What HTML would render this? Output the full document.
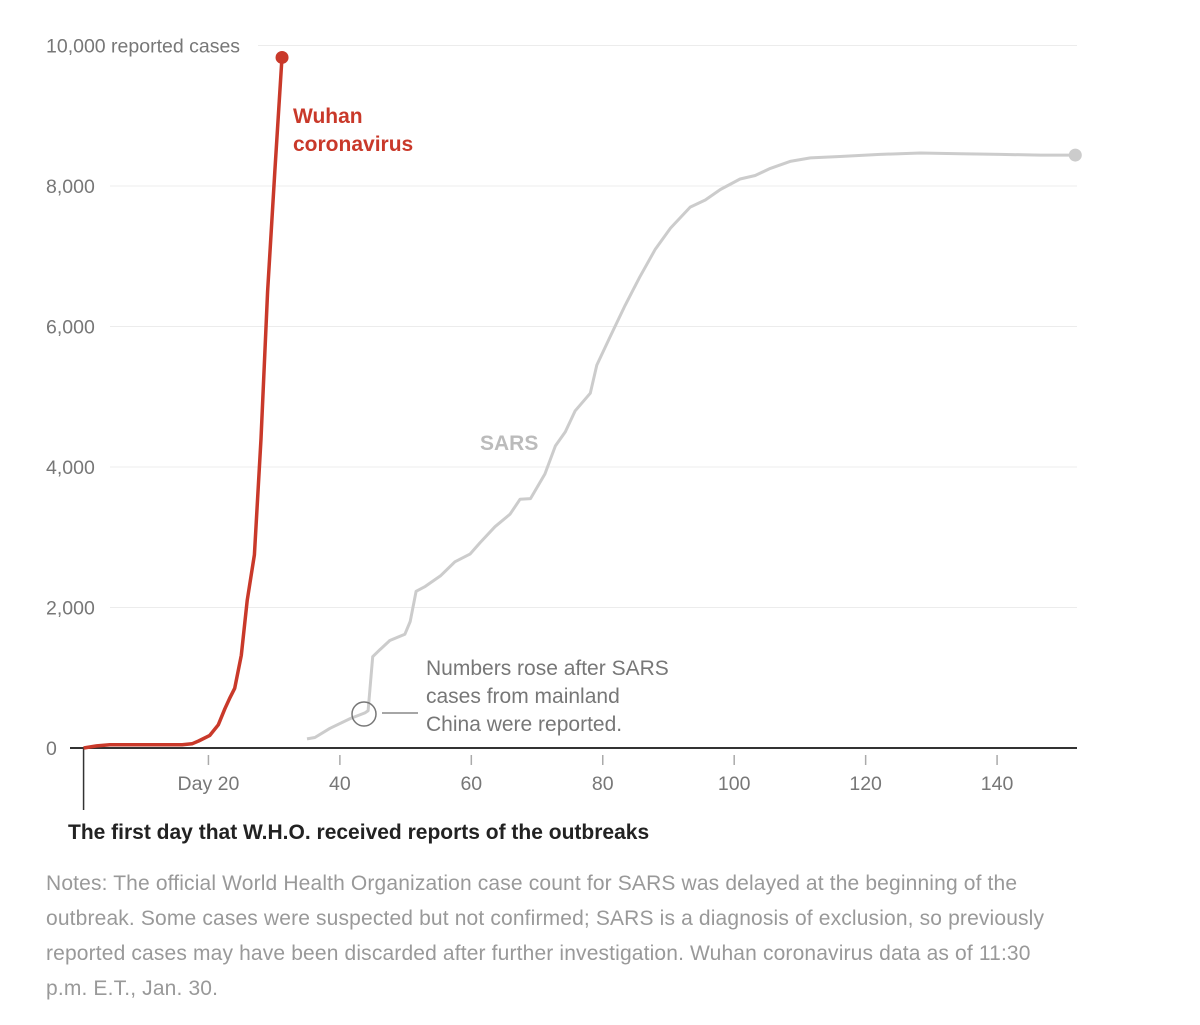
<!DOCTYPE html>
<html><head><meta charset="utf-8"><style>
body{margin:0;background:#fff;width:1200px;height:1025px;overflow:hidden;font-family:"Liberation Sans",sans-serif}
svg{position:absolute;left:0;top:0}
.notes{position:absolute;left:46px;top:866px;width:1005px;font-size:21px;line-height:35px;color:#999;font-family:"Liberation Sans",sans-serif;letter-spacing:0.15px}
</style></head><body>
<svg id="chart" width="1200" height="860"></svg>
<div class="notes">Notes: The official World Health Organization case count for SARS was delayed at the beginning of the outbreak. Some cases were suspected but not confirmed; SARS is a diagnosis of exclusion, so previously reported cases may have been discarded after further investigation. Wuhan coronavirus data as of 11:30 p.m. E.T., Jan. 30.</div>
<script>
const yTicks=[0,2000,4000,6000,8000,10000];
const yTickLabels=["0","2,000","4,000","6,000","8,000","10,000 reported cases"];
const xTicks=[20,40,60,80,100,120,140];
const xTickLabels=["Day 20","40","60","80","100","120","140"];
const wuhanDays=[1,3,5,8,12,16,17.5,18.5,20.2,21.5,22.5,23.3,24,25,25.9,27,28,29,30.1,31.2];
const wuhanCases=[0,30,45,45,45,45,60,100,180,330,560,720,850,1320,2100,2750,4400,6500,8200,9830];
const sarsDays=[35,36.2,38.5,41.6,43.8,44.3,45,46.1,47.6,49.9,50.7,51.6,53,55.3,57.5,59.8,61.3,63.6,65.9,67.4,69,71.2,72.8,74.3,75.8,78.1,79.1,81.1,83.4,85.6,88,90.3,93.3,95.6,97.9,100.9,103.2,105.5,108.5,111.6,116.1,122.2,128.3,134.4,140.5,146.6,151.9];
const sarsCases=[130,150,280,420,500,530,1300,1400,1530,1620,1800,2230,2300,2450,2650,2760,2920,3150,3330,3540,3550,3900,4300,4500,4800,5050,5450,5850,6300,6700,7100,7400,7700,7800,7950,8100,8150,8250,8350,8400,8420,8450,8470,8460,8450,8440,8440];
const NS="http://www.w3.org/2000/svg";
const svg=document.getElementById('chart');
const X=d=>77+d*6.572;
const Y=v=>748-v*0.07025;
function mk(t,a,p){const e=document.createElementNS(NS,t);for(const k in a)e.setAttribute(k,a[k]);(p||svg).appendChild(e);return e;}
yTicks.forEach((v,i)=>{
 if(v>0){const g=mk('line',{x1:v===10000?258:110,x2:1077,y1:Y(v),y2:Y(v),stroke:'#ececec','stroke-width':1});
 
 }
 const t=mk('text',{x:46,y:Y(v)+7,'font-size':19.5,fill:'#777'});t.textContent=yTickLabels[i];
 
 
});
xTicks.forEach((d,i)=>{
 const l=mk('line',{x1:X(d),x2:X(d),y1:755,y2:765,stroke:'#aaa','stroke-width':1.5});
 
 
 const t=mk('text',{x:X(d),y:790,'font-size':19.5,fill:'#777','text-anchor':'middle'});t.textContent=xTickLabels[i];
 
 
});
const base=mk('line',{x1:70,x2:1077,y1:748,y2:748,stroke:'#333','stroke-width':2});


const fd=mk('line',{x1:X(1),x2:X(1),y1:748,y2:810,stroke:'#333','stroke-width':1.5});


const fdt=mk('text',{x:68,y:839,'font-size':21,'font-weight':'bold',fill:'#222'});fdt.textContent='The first day that W.H.O. received reports of the outbreaks';


function path(days,vals){return days.map((d,i)=>(i?'L':'M')+X(d).toFixed(1)+' '+Y(vals[i]).toFixed(1)).join(' ');}
const sp=mk('path',{d:path(sarsDays,sarsCases),fill:'none',stroke:'#ccc','stroke-width':3,'stroke-linejoin':'round'});


const sl=sarsDays.length-1;
const sd=mk('circle',{cx:X(sarsDays[sl]),cy:Y(sarsCases[sl]),r:6.5,fill:'#ccc'});


const wp=mk('path',{d:path(wuhanDays,wuhanCases),fill:'none',stroke:'#c9392a','stroke-width':3.5,'stroke-linejoin':'round'});


const wl=wuhanDays.length-1;
const wd=mk('circle',{cx:X(wuhanDays[wl]),cy:Y(wuhanCases[wl]),r:6.5,fill:'#c9392a'});


const w1=mk('text',{x:293,y:123,'font-size':21,'font-weight':'bold',fill:'#c9392a'});w1.textContent='Wuhan';


const w2=mk('text',{x:293,y:151,'font-size':21,'font-weight':'bold',fill:'#c9392a'});w2.textContent='coronavirus';


const s1=mk('text',{x:480,y:450,'font-size':21,'font-weight':'bold',fill:'#bbb'});s1.textContent='SARS';


const c=mk('circle',{cx:364,cy:714,r:12,fill:'none',stroke:'#777','stroke-width':1.5});


const al=mk('line',{x1:382,x2:418,y1:713,y2:713,stroke:'#888','stroke-width':1.5});


["Numbers rose after SARS","cases from mainland","China were reported."].forEach((s,i)=>{
 const t=mk('text',{x:426,y:675+i*28,'font-size':21,fill:'#777'});t.textContent=s;
 
 
});
</script>
</body></html>
